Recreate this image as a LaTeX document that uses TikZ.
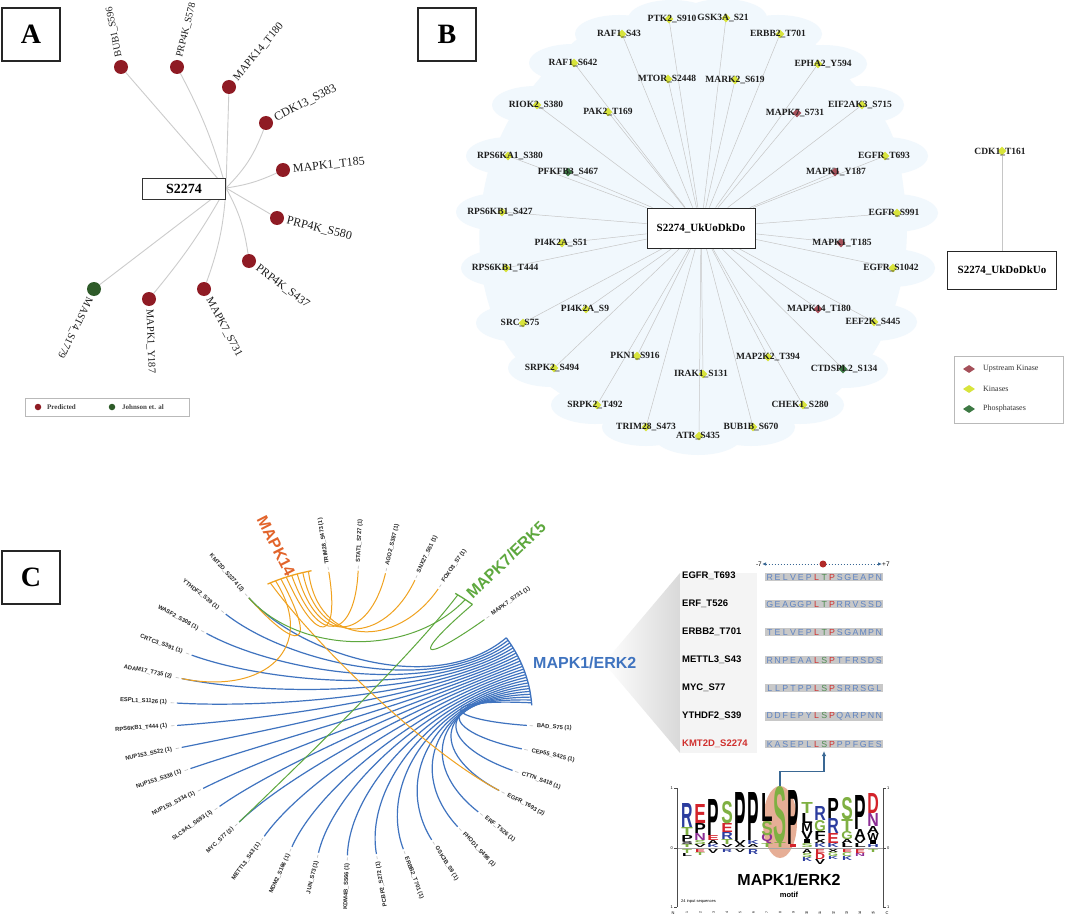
\documentclass[tikz,border=0pt]{standalone}
\usepackage{fontspec}
\usepackage{graphicx}
\setmainfont{Liberation Serif}
\setsansfont{Liberation Sans}
\usetikzlibrary{shapes.geometric,calc,arrows.meta,backgrounds}
\pgfdeclarelayer{bgzero}
\pgfsetlayers{bgzero,background,main}

\definecolor{dred}{HTML}{8F1B24}
\definecolor{dgreen}{HTML}{2E5B29}
\definecolor{cblue}{HTML}{3F73BF}
\definecolor{corange}{HTML}{F0A21F}
\definecolor{corangeT}{HTML}{E2642B}
\definecolor{cgreen}{HTML}{5EA83E}
\definecolor{kyellow}{HTML}{D8E43C}
\definecolor{kred}{HTML}{A5505A}
\definecolor{kgreen}{HTML}{3D7944}
\definecolor{cloud}{HTML}{F1F8FD}
\definecolor{seqb}{HTML}{5F84C2}
\definecolor{seqr}{HTML}{D0302E}
\definecolor{seqg}{HTML}{4E8C50}
\definecolor{seqbg}{HTML}{C8C8C8}
\definecolor{arrowb}{HTML}{3A6894}
\definecolor{lblue}{HTML}{2B3C9E}
\definecolor{lred}{HTML}{D3232B}
\definecolor{lgreen}{HTML}{7FB042}
\definecolor{lpurple}{HTML}{8C2E95}
\definecolor{salmon}{HTML}{E6AE96}
\definecolor{ptxt}{HTML}{1E1E1E}

\newcommand\fs[1]{\fontsize{#1}{#1}\selectfont}
\def\seqloop#1{\ifx#1\relax\else\makebox[7.8pt][c]{#1}\expandafter\seqloop\fi}
\newcommand\seqpart[2]{{\color{#1}\seqloop#2\relax}}
\newcommand\lgup[2]{\gdef\lgy{848}\foreach \hh/\cc/\lt in {#2}{\node[inner sep=0pt,anchor=south,text=\cc] at (#1,\lgy) {\resizebox{11.5pt}{\hh pt}{\sffamily\bfseries\lt}};\pgfmathsetmacro\tmp{\lgy-\hh}\xdef\lgy{\tmp}}}
\newcommand\lgdn[2]{\gdef\lgy{849.5}\foreach \hh/\cc/\lt in {#2}{\node[inner sep=0pt,anchor=north,text=\cc] at (#1,\lgy) {\resizebox{10pt}{\hh pt}{\sffamily\bfseries\lt}};\pgfmathsetmacro\tmp{\lgy+\hh}\xdef\lgy{\tmp}}}

\begin{document}
\begin{tikzpicture}[x=1pt,y=-1pt,
  pbox/.style={draw=black!85,line width=1.1pt,minimum width=58pt,minimum height=53pt,inner sep=0pt,font=\fs{28}\bfseries},
  hubA/.style={draw=black!80,line width=0.9pt,fill=white,minimum width=83pt,minimum height=21pt,inner sep=0pt,font=\fs{14}\bfseries},
  dotA/.style={circle,minimum size=14pt,inner sep=0pt,fill=dred},
  labA/.style={text=ptxt,inner sep=0pt,anchor=west},
  edgeA/.style={draw=gray!40,line width=0.9pt},
  mk/.style={diamond,minimum width=9pt,minimum height=9pt,inner sep=0pt},
  labB/.style={font=\fs{9.5}\bfseries,text=ptxt,inner sep=0pt},
  edgeB/.style={draw=gray!45,line width=0.5pt},
  hubB/.style={draw=black!85,line width=0.9pt,fill=white,inner sep=0pt,font=\fs{11}\bfseries},
  clab/.style={font=\sffamily\bfseries\fs{5.8},text=black!85,inner sep=0pt},
  ctick/.style={draw=gray!50,line width=0.6pt},
  cb/.style={draw=cblue,line width=1.2pt},
  co/.style={draw=corange,line width=1pt},
  cg/.style={draw=cgreen,line width=1pt},
  grp/.style={font=\sffamily\bfseries\fs{16},inner sep=0pt},
  sname/.style={font=\sffamily\bfseries\fs{9.5},anchor=west,inner sep=0pt},
  sseq/.style={font=\sffamily\fs{8.8},anchor=west,fill=seqbg,inner sep=0.6pt},
  small/.style={font=\sffamily\fs{4},inner sep=0pt}
]
\useasboundingbox (0,0) rectangle (1065,920);
\begin{pgfonlayer}{bgzero}
\fill[white] (0,0) rectangle (1065,920);
\fill[cloud] plot[smooth cycle,tension=0.6] coordinates {(600,25) (700,18) (790,28) (850,80) (890,130) (905,200) (905,260) (890,320) (860,370) (800,415) (700,435) (610,420) (555,390) (510,350) (485,290) (480,220) (495,150) (530,90)};
\end{pgfonlayer}

% ================= Panel A =================
\node[pbox] (pA) at (31,34.5) {A};
\node[hubA] (s2274) at (184,188.5) {S2274};
\coordinate (ahub) at (226,188);
\foreach \nm/\x/\y/\a/\cl/\txt/\bd/\fz in {
 a1/121/67/101/dred/BUB1\_S596/0/10,
 a2/177/67/76/dred/PRP4K\_S578/-6/10,
 a3/229/87/50/dred/MAPK14\_T180/0/11,
 a4/266/123/27/dred/CDK13\_S383/-12/12,
 a5/283/170/6/dred/MAPK1\_T185/-8/12,
 a6/277/218/-14/dred/PRP4K\_S580/0/12,
 a7/249/261/-37/dred/PRP4K\_S437/10/11.5,
 a8/204/289/-62/dred/MAPK7\_S731/8/11,
 a9/149/299/-88/dred/MAPK1\_Y187/5/10.5,
 a10/94/289/-116/dgreen/MAST4\_S1779/0/10.5}{
 \node[dotA,fill=\cl] (\nm) at (\x,\y) {};
 \node[labA,font=\fs{\fz},rotate=\a] at ($(\nm)+({10*cos(\a)},{-10*sin(\a)})$) {\txt};
 \begin{scope}[on background layer]
 \draw[edgeA] (ahub) to[bend left=\bd] (\nm);
 \end{scope}
}
\node[draw=gray!55,line width=0.8pt,minimum width=164pt,minimum height=18pt,inner sep=0pt] (legA) at (107,407) {};
\node[circle,fill=dred,minimum size=6.5pt,inner sep=0pt] (lgA1) at (38,407) {};
\node[anchor=west,font=\fs{7}\bfseries,text=black!75,inner sep=0pt] (lgA1t) at (47,407) {Predicted};
\node[circle,fill=dgreen,minimum size=6.5pt,inner sep=0pt] (lgA2) at (112,407) {};
\node[anchor=west,font=\fs{7}\bfseries,text=black!75,inner sep=0pt] (lgA2t) at (122,407) {Johnson et. al};

% ================= Panel B =================
\node[pbox] (pB) at (447,34.5) {B};
\node[hubB,minimum width=108pt,minimum height=40pt] (bhub) at (701,228) {S2274\_UkUoDkDo};
\foreach \nm/\x/\y/\cl/\lx/\txt in {
 b1/669/19/kyellow/672/PTK2\_S910,
 b2/726/18/kyellow/723/GSK3A\_S21,
 b3/622/34/kyellow/619/RAF1\_S43,
 b4/780/34/kyellow/778/ERBB2\_T701,
 b5/574/63/kyellow/573/RAF1\_S642,
 b6/818/64/kyellow/823/EPHA2\_Y594,
 b7/668/79/kyellow/667/MTOR\_S2448,
 b8/735/80/kyellow/735/MARK2\_S619,
 b9/537/105/kyellow/536/RIOK2\_S380,
 b10/608/112/kyellow/608/PAK2\_T169,
 b11/797/113/kred/795/MAPK7\_S731,
 b12/862/105/kyellow/860/EIF2AK3\_S715,
 b13/508/156/kyellow/510/RPS6KA1\_S380,
 b14/568/172/kgreen/568/PFKFB3\_S467,
 b15/835/172/kred/836/MAPK1\_Y187,
 b16/885/156/kyellow/884/EGFR\_T693,
 b17/502/212/kyellow/500/RPS6KB1\_S427,
 b18/897/213/kyellow/894/EGFR\_S991,
 b19/562/243/kyellow/561/PI4K2A\_S51,
 b20/841/243/kred/842/MAPK1\_T185,
 b21/506/268/kyellow/505/RPS6KB1\_T444,
 b22/893/268/kyellow/891/EGFR\_S1042,
 b23/586/309/kyellow/585/PI4K2A\_S9,
 b24/818/309/kred/819/MAPK14\_T180,
 b25/523/323/kyellow/520/SRC\_S75,
 b26/874/322/kyellow/873/EEF2K\_S445,
 b27/637/356/kyellow/635/PKN1\_S916,
 b28/768/357/kyellow/768/MAP2K2\_T394,
 b29/554/368/kyellow/552/SRPK2\_S494,
 b30/703/374/kyellow/701/IRAK1\_S131,
 b31/843/369/kgreen/844/CTDSPL2\_S134,
 b32/597/405/kyellow/595/SRPK2\_T492,
 b33/803/405/kyellow/800/CHEK1\_S280,
 b34/646/427/kyellow/646/TRIM28\_S473,
 b35/753/427/kyellow/751/BUB1B\_S670,
 b36/699/436/kyellow/698/ATR\_S435}{
 \node[mk,fill=\cl] (\nm) at (\x,\y) {};
 \node[labB] at (\lx,\y) {\txt};
 \begin{pgfonlayer}{bgzero}\fill[cloud] (\lx,\y) ellipse (44 and 19);\end{pgfonlayer}
 \begin{scope}[on background layer]\draw[edgeB] (bhub) -- (\nm);\end{scope}
}
\node[hubB,minimum width=109pt,minimum height=38pt] (bhub2) at (1002,270) {S2274\_UkDoDkUo};
\node[mk,fill=kyellow] (b37) at (1002,151) {};
\node[labB] at (1000,152) {CDK1\_T161};
\begin{scope}[on background layer]\draw[edgeB,line width=0.8pt] (b37) -- (bhub2);\end{scope}
\node[draw=gray!55,line width=0.8pt,minimum width=109pt,minimum height=67pt,inner sep=0pt] (legB) at (1008.5,389.5) {};
\node[mk,fill=kred,minimum width=12pt,minimum height=8pt] (lgB1) at (969,369) {};
\node[mk,fill=kyellow,minimum width=12pt,minimum height=8pt] (lgB2) at (969,389) {};
\node[mk,fill=kgreen,minimum width=12pt,minimum height=8pt] (lgB3) at (969,409) {};
\node[anchor=west,font=\fs{8},text=black!80,inner sep=0pt] (lgB1t) at (983,369) {Upstream Kinase};
\node[anchor=west,font=\fs{8},text=black!80,inner sep=0pt] (lgB2t) at (983,389) {Kinases};
\node[anchor=west,font=\fs{8},text=black!80,inner sep=0pt] (lgB3t) at (983,409) {Phosphatases};

% ================= Panel C =================
\node[pbox] (pC) at (31,577.5) {C};
\def\ecx{352}\def\ecy{713}\def\erx{180}\def\ery{146}
\foreach \kk/\ang/\txt in {trim/97.6/TRIM28\_S473 (1), stat/88/STAT1\_S727 (1), ago/79/AGO2\_S387 (1), snx/69/SNX27\_S51 (1), fox/60.6/FOXO3\_S7 (1), mk7/41/MAPK7\_S731 (1), bad/-5/BAD\_S75 (1), cep/-14.6/CEP55\_S425 (1), ctt/-23.8/CTTN\_S418 (1), egf/-33/EGFR\_T693 (2), erf/-44/ERF\_T526 (1), fho/-53/FHOD1\_S498 (1), gsk/-63/GSK3B\_S9 (1), erb/-73/ERBB2\_T701 (1)}{
 \coordinate (e-\kk) at ({\ecx+0.975*\erx*cos(\ang)},{\ecy-0.975*\ery*sin(\ang)});
 \coordinate (m-\kk) at ({\ecx+0.5*\erx*cos(\ang)},{\ecy-0.5*\ery*sin(\ang)});
 \draw[ctick] ({\ecx+0.99*\erx*cos(\ang)},{\ecy-0.99*\ery*sin(\ang)}) -- ({\ecx+1.01*\erx*cos(\ang)},{\ecy-1.01*\ery*sin(\ang)});
 \pgfmathsetmacro\rot{atan2(\ery*sin(\ang),\erx*cos(\ang))}
 \node[clab,anchor=west,rotate=\rot] (l-\kk) at ({\ecx+1.03*\erx*cos(\ang)},{\ecy-1.03*\ery*sin(\ang)}) {\txt};
}
\foreach \kk/\ang/\txt in {pcb/-82/PCBP2\_S272 (1), kdm/-91.5/KDM4B\_S566 (1), jun/-101/JUN\_S73 (1), mdm/-110/MDM2\_S166 (1), met/-120/METTL3\_S43 (1), myc/-130/MYC\_S77 (2), slc/-139/SLC9A1\_S693 (1), n334/-148/NUP153\_S334 (1), n338/-157/NUP153\_S338 (1), n522/-166/NUP153\_S522 (1), rps/-175/RPS6KB1\_T444 (1), esp/176/ESPL1\_S1126 (1), ada/166/ADAM17\_T735 (2), crt/156/CRTC3\_S391 (1), was/146/WASF2\_S308 (1), yth/136/YTHDF2\_S39 (1), kmt/126/KMT2D\_S2274 (2)}{
 \coordinate (e-\kk) at ({\ecx+0.975*\erx*cos(\ang)},{\ecy-0.975*\ery*sin(\ang)});
 \coordinate (m-\kk) at ({\ecx+0.5*\erx*cos(\ang)},{\ecy-0.5*\ery*sin(\ang)});
 \draw[ctick] ({\ecx+0.99*\erx*cos(\ang)},{\ecy-0.99*\ery*sin(\ang)}) -- ({\ecx+1.01*\erx*cos(\ang)},{\ecy-1.01*\ery*sin(\ang)});
 \pgfmathsetmacro\rot{atan2(\ery*sin(\ang),\erx*cos(\ang))+180}
 \node[clab,anchor=east,rotate=\rot] (l-\kk) at ({\ecx+1.03*\erx*cos(\ang)},{\ecy-1.03*\ery*sin(\ang)}) {\txt};
}
\coordinate (bb) at (434,698);
\coordinate (ob) at (318,648);
\coordinate (gb) at (410,658);
\foreach \kk [count=\i] in {kmt,yth,was,crt,ada,esp,rps,n522,n338,n334,slc,myc,met,mdm,jun,kdm,pcb,erb,gsk,fho,erf,egf,ctt,cep,bad}{
 \pgfmathsetmacro\sang{31-(\i-1)*27/24}
 \coordinate (sb-\kk) at ({\ecx+\erx*cos(\sang)},{\ecy-\ery*sin(\sang)});
 \draw[cb] (sb-\kk) .. controls (bb) and (m-\kk) .. (e-\kk);
}
\foreach \kk [count=\i] in {egf,ada,kmt,trim,stat,ago,snx,fox}{
 \pgfmathsetmacro\sang{117-(\i-1)*13/7}
 \coordinate (so-\kk) at ({\ecx+\erx*cos(\sang)},{\ecy-\ery*sin(\sang)});
 \draw[co] (so-\kk) .. controls (ob) and (m-\kk) .. (e-\kk);
}
\foreach \kk [count=\i] in {myc,kmt,mk7}{
 \pgfmathsetmacro\sang{54-(\i-1)*3}
 \coordinate (sg-\kk) at ({\ecx+\erx*cos(\sang)},{\ecy-\ery*sin(\sang)});
 \draw[cg] (sg-\kk) .. controls (gb) and (m-\kk) .. (e-\kk);
}
\draw[cblue,line width=1.3pt] plot[domain=3:31,samples=20] ({\ecx+\erx*cos(\x)},{\ecy-\ery*sin(\x)});
\draw[corange,line width=1.3pt] plot[domain=103:118,samples=10] ({\ecx+\erx*cos(\x)},{\ecy-\ery*sin(\x)});
\draw[cgreen,line width=1.3pt] plot[domain=48:55,samples=6] ({\ecx+\erx*cos(\x)},{\ecy-\ery*sin(\x)});
\node[grp,text=corangeT,rotate=-63] (g14) at (276,546) {MAPK14};
\node[grp,text=cgreen,rotate=44] (g7) at (506,560) {MAPK7/ERK5};

\shade[left color=white,right color=gray!30] (604,663) -- (680,573) -- (680,753) -- cycle;
\fill[gray!9] (680,573) rectangle (757,753);
\node[grp,text=cblue,anchor=west] (g1) at (533,663) {MAPK1/ERK2};

\node[sname] (n1) at (682,576) {EGFR\_T693};
\node[sname] (n2) at (682,604) {ERF\_T526};
\node[sname] (n3) at (682,632) {ERBB2\_T701};
\node[sname] (n4) at (682,660) {METTL3\_S43};
\node[sname] (n5) at (682,688) {MYC\_S77};
\node[sname] (n6) at (682,716) {YTHDF2\_S39};
\node[sname,text=seqr] (n7) at (682,744) {KMT2D\_S2274};
\node[sseq] (q1) at (765,577) {\seqpart{seqb}{RELVEP}\seqpart{seqr}{L}\seqpart{seqg}{T}\seqpart{seqr}{P}\seqpart{seqb}{SGEAPN}};
\node[sseq] (q2) at (765,604) {\seqpart{seqb}{GEAGGP}\seqpart{seqr}{L}\seqpart{seqg}{T}\seqpart{seqr}{P}\seqpart{seqb}{RRVSSD}};
\node[sseq] (q3) at (765,632) {\seqpart{seqb}{TELVEP}\seqpart{seqr}{L}\seqpart{seqg}{T}\seqpart{seqr}{P}\seqpart{seqb}{SGAMPN}};
\node[sseq] (q4) at (765,660) {\seqpart{seqb}{RNPEAA}\seqpart{seqr}{L}\seqpart{seqg}{S}\seqpart{seqr}{P}\seqpart{seqb}{TFRSDS}};
\node[sseq] (q5) at (765,688) {\seqpart{seqb}{LLPTPP}\seqpart{seqr}{L}\seqpart{seqg}{S}\seqpart{seqr}{P}\seqpart{seqb}{SRRSGL}};
\node[sseq] (q6) at (765,716) {\seqpart{seqb}{DDFEPY}\seqpart{seqr}{L}\seqpart{seqg}{S}\seqpart{seqr}{P}\seqpart{seqb}{QARPNN}};
\node[sseq] (q7) at (765,744) {\seqpart{seqb}{KASEPL}\seqpart{seqr}{L}\seqpart{seqg}{S}\seqpart{seqr}{P}\seqpart{seqb}{PPFGES}};
\coordinate (kmtS) at (824,751);

\node[font=\sffamily\fs{6.5},inner sep=0pt,anchor=east] (m7) at (762,564) {-7};
\node[font=\sffamily\fs{6.5},inner sep=0pt,anchor=west] (p7) at (882,564) {+7};
\draw[arrowb,dotted,line width=1pt,{Latex[length=4pt,width=3.5pt]}-{Latex[length=4pt,width=3.5pt]}] (m7.east) -- (p7.west);
\node[circle,fill=seqr!85!black,minimum size=7pt,inner sep=0pt] (zero) at (823,564) {};

\fill[salmon] (780,822) ellipse (17 and 36);
\draw[gray!70,line width=0.6pt] (677,848) -- (883,848);
\lgup{687}{3/lgreen/T, 3/black/S, 6/black/P, 8/lgreen/T, 24/lblue/R}
\lgup{700}{3/black/V, 4/lgreen/S, 7/lpurple/N, 10/black/P, 19/lred/E}
\lgup{713}{3/lblue/K, 4/black/A, 5/lred/E, 36/black/P}
\lgup{727}{3/black/V, 5/lgreen/T, 7/lblue/R, 9/lred/E, 22/lgreen/S}
\lgup{740}{3/black/A, 4/black/V, 48/black/P}
\lgup{753}{3/black/A, 4/lblue/K, 48/black/P}
\lgup{767}{4/lgreen/T, 8/lpurple/Q, 14/lgreen/S, 28/black/L}
\lgup{780}{5/lgreen/T}
\node[inner sep=0pt,anchor=south,text=lgreen] (lgs) at (780,843) {\resizebox{13pt}{56pt}{\sffamily\bfseries S}};
\lgup{793}{3/lred/I, 54/black/P}
\lgup{807}{4/lgreen/S, 4/black/I, 8/black/V, 8/black/M, 10/black/L, 11/lgreen/T}
\lgup{820}{4/lblue/K, 4/black/X, 8/black/F, 11/lgreen/G, 14/lblue/R}
\lgup{833}{4/lblue/K, 10/lred/E, 15/lblue/R, 20/black/P}
\lgup{847}{4/black/L, 4/black/A, 8/lgreen/G, 12/lgreen/T, 22/lgreen/S}
\lgup{860}{4/black/L, 4/black/V, 10/black/A, 34/black/P}
\lgup{873}{3/lblue/H, 4/black/I, 7/black/W, 7/black/A, 13/lpurple/N, 20/lred/D}
\lgdn{687}{4/lgreen/T, 3/black/L}
\lgdn{700}{3/lred/E, 3/lgreen/T}
\lgdn{713}{4/black/V}
\lgdn{727}{3/lblue/R}
\lgdn{740}{3/black/V}
\lgdn{753}{5/lblue/R}
\lgdn{807}{4/black/A, 4/lgreen/S, 4/lblue/K}
\lgdn{820}{4/lred/E, 6/lred/D, 5/black/V}
\lgdn{833}{3/black/X, 4/lgreen/G, 3/lblue/K}
\lgdn{847}{3/lred/E, 4/lgreen/C, 4/lblue/K}
\lgdn{860}{4/lred/E, 3/lpurple/N}
\lgdn{873}{3/lgreen/T}
\draw[black!70,line width=0.7pt] (677,788) -- (677,907);
\draw[black!70,line width=0.7pt] (883,788) -- (883,907);
\foreach \yy/\tt in {788/1,848/0,907/1}{
 \draw[black!70,line width=0.6pt] (674,\yy) -- (677,\yy);
 \draw[black!70,line width=0.6pt] (883,\yy) -- (886,\yy);
 \node[small,anchor=east] at (673,\yy) {\tt};
 \node[small,anchor=west] at (887,\yy) {\tt};
}
\node[small] (nN) at (673,913) {N};
\node[small] (nC) at (887,913) {C};
\foreach \p in {1,...,15}{\node[small,rotate=90,font=\sffamily\fs{3.5}] at ({687+(\p-1)*13.3},913) {\p};}
\node[small,anchor=west] (inp) at (681,901) {24 input sequences};
\node[font=\sffamily\bfseries\fs{16},inner sep=0pt] (lgt) at (789,880) {MAPK1/ERK2};
\node[font=\sffamily\bfseries\fs{7.5},inner sep=0pt] (lgm) at (789,895) {motif};
\draw[arrowb,line width=1.1pt,-{Latex[length=5pt,width=4.5pt]}] (lgs.north) -- ++(0,-14) -| (kmtS);
\end{tikzpicture}
\end{document}
